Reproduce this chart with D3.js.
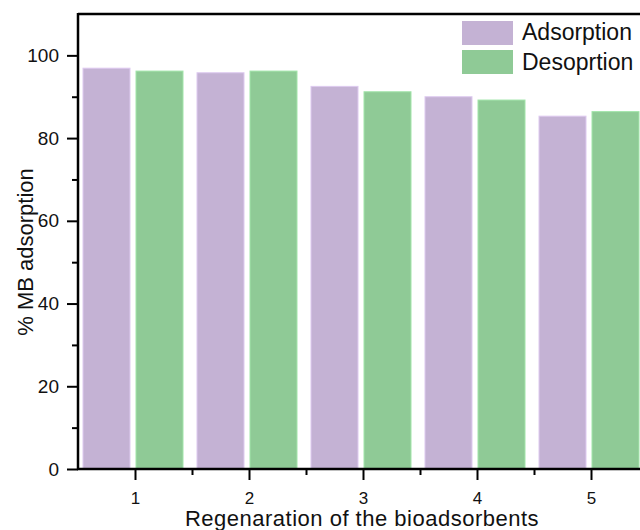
<!DOCTYPE html>
<html>
<head>
<meta charset="utf-8">
<script src="https://cdn.jsdelivr.net/npm/d3@7"></script>
<style>
  html, body { margin: 0; padding: 0; background: #fff; }
  svg { display: block; font-family: "Liberation Sans", Arial, sans-serif; }
  .tick text { font-family: "Liberation Sans", Arial, sans-serif; }
  .ytick text { font-size: 19px; }
  .xtick text { font-size: 17px; }
</style>
</head>
<body>
<svg id="chart" width="640" height="530"></svg>
<script>
// Regeneration cycles and % MB removal for each step
const cycles = [1, 2, 3, 4, 5];
const adsorption = [96.9, 95.8, 92.5, 90.0, 85.3];
const desorption = [96.2, 96.2, 91.2, 89.2, 86.4];
const seriesNames = ["Adsorption", "Desoprtion"];
const seriesColors = ["#c4b2d4", "#8fca96"];
const yTicks = [0, 20, 40, 60, 80, 100];

const svg = d3.select("#chart");
const plotLeft = 78, plotTop = 14, plotBottom = 469;
const FONT = "'Liberation Sans', Arial, sans-serif";

const x = d3.scaleLinear().domain([0.5, 5.5]).range([plotLeft, plotLeft + 570]);
const y = d3.scaleLinear().domain([0, 110]).range([plotBottom, plotTop]);

const barW = 47, gap = 6;
const series = [adsorption, desorption];

// bars
series.forEach((vals, si) => {
  svg.append("g").selectAll("rect")
    .data(cycles)
    .join("rect")
    .attr("x", (c) => x(c) - gap / 2 - barW + si * (barW + gap) - 2)
    .attr("y", (c, i) => y(vals[i]))
    .attr("width", barW)
    .attr("height", (c, i) => y(0) - y(vals[i]))
    .attr("fill", seriesColors[si])
    .attr("stroke", d3.color(seriesColors[si]).brighter(0.35))
    .attr("stroke-width", 1);
});

// y axis: major ticks every 20, minor every 10
const yAxis = d3.axisLeft(y).tickValues(yTicks).tickSize(11).tickPadding(8);
const gy = svg.append("g").attr("class", "ytick")
  .attr("transform", `translate(${plotLeft},0)`).call(yAxis)
  .attr("font-size", 19).attr("font-family", FONT);
gy.select(".domain").remove();
gy.selectAll(".tick line").attr("stroke", "#000").attr("stroke-width", 2);
gy.selectAll(".tick text").attr("font-size", 19).attr("fill", "#111");
svg.append("g").attr("transform", `translate(${plotLeft},0)`)
  .call(d3.axisLeft(y).tickValues([10, 30, 50, 70, 90]).tickSize(6).tickFormat(""))
  .call((g) => g.select(".domain").remove())
  .selectAll(".tick line").attr("stroke", "#000").attr("stroke-width", 2);

// x axis: ticks under categories, minor ticks between them
const xAxis = d3.axisBottom(x).tickValues(cycles).tickFormat(d3.format("d")).tickSize(11).tickPadding(12);
const gx = svg.append("g").attr("class", "xtick")
  .attr("transform", `translate(0,${plotBottom})`).call(xAxis)
  .attr("font-size", 17).attr("font-family", FONT);
gx.select(".domain").remove();
gx.selectAll(".tick line").attr("stroke", "#000").attr("stroke-width", 2);
gx.selectAll(".tick text").attr("font-size", 17).attr("fill", "#111");
svg.append("g").attr("transform", `translate(0,${plotBottom})`)
  .call(d3.axisBottom(x).tickValues([1.5, 2.5, 3.5, 4.5]).tickSize(6).tickFormat(""))
  .call((g) => g.select(".domain").remove())
  .selectAll(".tick line").attr("stroke", "#000").attr("stroke-width", 2);

// frame lines
svg.append("line").attr("x1", plotLeft).attr("x2", 640).attr("y1", plotTop).attr("y2", plotTop)
  .attr("stroke", "#000").attr("stroke-width", 2.5);
svg.append("line").attr("x1", plotLeft).attr("x2", plotLeft).attr("y1", plotTop - 1).attr("y2", plotBottom + 1)
  .attr("stroke", "#000").attr("stroke-width", 2.5);
svg.append("line").attr("x1", plotLeft - 1).attr("x2", 640).attr("y1", plotBottom).attr("y2", plotBottom)
  .attr("stroke", "#000").attr("stroke-width", 2.5);

// axis titles
svg.append("text")
  .attr("transform", "translate(33,252) rotate(-90)")
  .attr("text-anchor", "middle").style("font-size", "22px").style("font-family", FONT)
  .attr("fill", "#111")
  .text("% MB adsorption");
svg.append("text")
  .attr("x", 362).attr("y", 526)
  .attr("text-anchor", "middle").style("font-size", "22px").style("font-family", FONT)
  .style("letter-spacing", "0.5px").attr("fill", "#111")
  .text("Regenaration of the bioadsorbents");

// legend
const legend = svg.append("g").attr("transform", "translate(462,21)");
seriesNames.forEach((name, i) => {
  legend.append("rect").attr("x", 0).attr("y", i * 29).attr("width", 51).attr("height", 24)
    .attr("fill", seriesColors[i]);
  legend.append("text").attr("x", 60).attr("y", i * 30 + 19)
    .style("font-size", "23px").style("font-family", FONT).attr("fill", "#111").text(name);
});
</script>
</body>
</html>
